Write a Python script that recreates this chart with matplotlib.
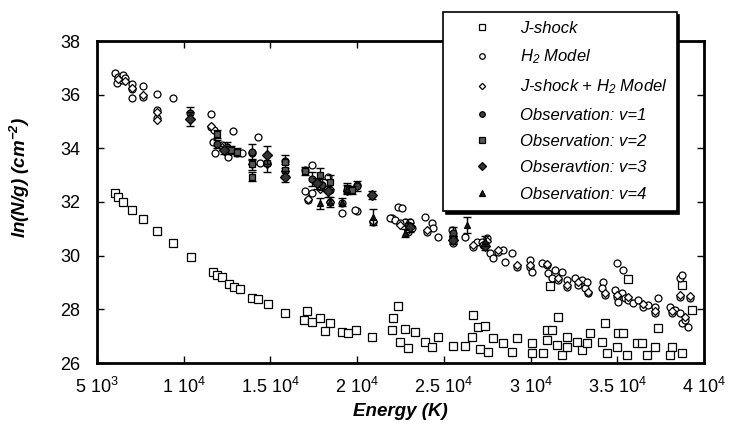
import matplotlib
matplotlib.use("Agg")
import matplotlib.pyplot as plt
from matplotlib.ticker import MultipleLocator

plt.rcParams['font.family'] = ['Liberation Sans', 'DejaVu Sans']
plt.rcParams['mathtext.default'] = 'regular'

# J-shock model (lower branch)
jshock_E = [6040, 6230, 6520, 7000, 7640, 8440, 9370, 10420, 11670, 11900,
            12190, 12630, 12900, 13250, 13960, 14300, 14840, 15840, 16960, 17090,
            17380, 17860, 18440, 18150, 19110, 19490, 19940, 20840, 22000, 22090,
            22380, 22470, 22760, 22950, 23340, 23920, 24300, 24680, 25550, 26220,
            26610, 26700, 26990, 27380, 27090, 27570, 27860, 28430, 28920, 29200,
            30070, 30070, 30740, 30930, 30930, 31220, 31600, 31510, 31800, 32090,
            32090, 32660, 32950, 33240, 33430, 34110, 34300, 34400, 34970, 35060,
            35350, 35550, 36120, 36410, 36700, 37180, 37370, 38140, 38050, 38710,
            39290, 31130, 35640, 38710]
jshock_y = [32.32, 32.20, 32.01, 31.70, 31.35, 30.92, 30.46, 29.94, 29.40, 29.28,
            29.19, 28.94, 28.84, 28.76, 28.41, 28.37, 28.19, 27.85, 27.60, 27.95,
            27.52, 27.67, 27.48, 27.20, 27.17, 27.11, 27.23, 26.96, 27.23, 27.67,
            28.13, 26.79, 27.27, 26.55, 27.14, 26.79, 26.61, 26.98, 26.64, 26.64,
            26.98, 27.79, 27.35, 27.38, 26.51, 26.42, 26.92, 26.73, 26.42, 26.92,
            26.73, 26.36, 26.36, 27.23, 26.86, 27.23, 27.72, 26.67, 26.30, 26.98,
            26.61, 26.79, 26.48, 26.73, 27.11, 26.79, 27.48, 26.36, 26.61, 27.11,
            27.11, 26.30, 26.73, 26.73, 26.30, 26.61, 27.29, 26.61, 26.30, 26.36,
            27.97, 28.87, 29.13, 28.91]

# H2 model (upper branch)
h2_E = [6040, 6230, 6140, 6420, 6520, 6620, 7000, 7000, 7000, 7640,
        7640, 8440, 8440, 8440, 9370, 11570, 11570, 11750, 12860, 11710,
        11800, 12190, 12570, 12670, 13060, 13340, 14300, 13920, 14400, 14790,
        15840, 16990, 17380, 16990, 17190, 17380, 17860, 18340, 18440, 18440,
        19110, 19110, 19400, 19980, 19980, 19880, 20840, 20900, 22380, 22570,
        22000, 22760, 21900, 22190, 22470, 22950, 23050, 23150, 23920, 24010,
        24300, 24400, 24680, 25460, 25550, 25550, 26220, 26700, 26890, 27180,
        27280, 27470, 27660, 27860, 28140, 28430, 28530, 28920, 29200, 29970,
        29970, 30070, 30650, 30930, 31030, 31220, 31410, 31600, 31800, 32090,
        32090, 32570, 32760, 32950, 33140, 33240, 33330, 34200, 34110, 34300,
        34870, 34970, 35060, 35260, 35450, 35640, 35930, 36220, 36510, 36790,
        37180, 37370, 37180, 38050, 38140, 38330, 38620, 38620, 38720, 38910,
        39100, 39200, 38620, 34970, 35350, 38720]
h2_y = [36.82, 36.67, 36.45, 36.55, 36.73, 36.61, 36.39, 36.20, 35.86, 36.32,
        35.92, 36.02, 35.43, 35.12, 35.89, 35.27, 34.81, 34.68, 34.66, 34.22,
        33.84, 34.12, 33.67, 33.94, 33.84, 33.84, 34.41, 33.84, 33.44, 33.44,
        33.54, 33.19, 33.38, 32.42, 32.07, 32.32, 32.57, 32.94, 32.45, 31.99,
        31.95, 31.58, 32.45, 32.63, 31.68, 31.70, 32.26, 31.27, 31.82, 31.76,
        31.39, 31.27, 31.39, 31.33, 31.21, 30.89, 31.27, 31.02, 31.45, 30.89,
        31.21, 31.02, 30.71, 30.96, 30.71, 30.46, 30.71, 30.33, 30.52, 30.52,
        30.40, 30.65, 30.09, 29.90, 30.15, 30.21, 29.77, 30.09, 29.59, 29.84,
        29.59, 29.40, 29.71, 29.65, 29.34, 29.16, 29.47, 29.09, 29.40, 29.09,
        28.84, 29.16, 28.91, 29.09, 28.78, 29.03, 28.60, 29.03, 28.78, 28.53,
        28.72, 28.47, 28.28, 28.60, 28.41, 28.35, 28.22, 28.35, 28.10, 28.16,
        27.85, 28.41, 28.10, 28.10, 27.85, 27.97, 28.47, 27.85, 27.48, 27.60,
        27.35, 28.41, 29.16, 29.71, 29.47, 29.28]

# J-shock + H2 model
jh2_E = [6230, 6620, 7000, 7640, 8440, 8440, 11570, 12190, 12670, 13920,
         14790, 15840, 17190, 17860, 18440, 19400, 20900, 22470, 22950, 24010,
         25550, 26700, 27470, 28140, 29200, 29970, 30930, 31600, 32090, 32760,
         33330, 34300, 34970, 35640, 36510, 37180, 38140, 38620, 38910, 39200]
jh2_y = [36.60, 36.50, 36.25, 36.00, 35.35, 35.05, 34.85, 34.05, 33.90, 33.40,
         33.40, 33.15, 32.10, 32.50, 32.00, 32.40, 31.30, 31.15, 30.95, 30.95,
         30.75, 30.40, 30.55, 30.20, 29.65, 29.65, 29.70, 29.15, 28.90, 29.00,
         28.65, 28.60, 28.55, 28.45, 28.20, 27.95, 27.95, 28.55, 27.70, 28.50]

# observations
v1_E = [10360, 11900, 12480, 13920, 17380, 17950, 19980, 22950, 25550]
v1_y = [35.30, 34.15, 34.05, 33.85, 32.85, 32.65, 32.60, 31.15, 30.85]
v1_err = [0.25, 0.15, 0.20, 0.30, 0.25, 0.20, 0.20, 0.20, 0.20]

v2_E = [11900, 12700, 13100, 13920, 13920, 14790, 15840, 15840, 16990, 17860, 18440, 19400, 19700]
v2_y = [34.55, 33.95, 33.85, 33.40, 32.95, 33.45, 33.50, 33.20, 33.15, 33.00, 32.75, 32.50, 32.45]
v2_err = [0.15, 0.15, 0.15, 0.20, 0.15, 0.35, 0.25, 0.20, 0.15, 0.25, 0.25, 0.15, 0.15]

v3_E = [10360, 12300, 14790, 15840, 17700, 18300, 20840, 23050, 25550, 27380]
v3_y = [35.10, 33.95, 33.75, 32.95, 32.70, 32.40, 32.25, 31.05, 30.60, 30.35]
v3_err = [0.25, 0.15, 0.35, 0.20, 0.20, 0.20, 0.15, 0.15, 0.15, 0.15]

v4_E = [17860, 18440, 19110, 19400, 20900, 22760, 26320, 27380]
v4_y = [31.95, 32.00, 32.00, 32.50, 31.45, 30.85, 31.15, 30.55]
v4_err = [0.20, 0.20, 0.15, 0.20, 0.30, 0.15, 0.30, 0.20]

xtick_vals = [5000, 10000, 15000, 20000, 25000, 30000, 35000, 40000]
xtick_labels = ['5 10$^3$', '1 10$^4$', '1.5 10$^4$', '2 10$^4$',
                '2.5 10$^4$', '3 10$^4$', '3.5 10$^4$', '4 10$^4$']

fig = plt.figure(figsize=(7.29, 4.34), dpi=100)
ax = fig.add_axes([97/729, 1 - 363/434, 607/729, 322/434])

hollow = dict(linestyle='none', markerfacecolor='white', markeredgecolor='black', markeredgewidth=0.9)
ax.plot(jshock_E, jshock_y, marker='s', markersize=5.5, label='J-shock', **hollow)
ax.plot(h2_E, h2_y, marker='o', markersize=5, label='$H_2$ Model', **hollow)
ax.plot(jh2_E, jh2_y, marker='D', markersize=4, label='J-shock + $H_2$ Model', **hollow)

obs = [(v1_E, v1_y, v1_err, 'o', '0.25', 'Observation: v=1'),
       (v2_E, v2_y, v2_err, 's', '0.35', 'Observation: v=2'),
       (v3_E, v3_y, v3_err, 'D', '0.2', 'Obseravtion: v=3'),
       (v4_E, v4_y, v4_err, '^', '0.1', 'Observation: v=4')]
for E, y, err, m, fc, lab in obs:
    ax.errorbar(E, y, yerr=err, fmt='none', ecolor='black',
                elinewidth=1, capsize=3, capthick=1)
    ax.plot(E, y, linestyle='none', marker=m, markersize=5, markerfacecolor=fc,
            markeredgecolor='black', markeredgewidth=0.9, label=lab)

ax.set_xlim(5000, 40000)
ax.set_ylim(26, 38)
ax.set_xticks(xtick_vals)
ax.set_xticklabels(xtick_labels)
ax.yaxis.set_major_locator(MultipleLocator(2))
ax.tick_params(direction='in', length=5, width=1, top=True, right=True, labelsize=13)
ax.tick_params(axis='x', pad=10)
ax.tick_params(axis='y', pad=12)
for s in ax.spines.values():
    s.set_linewidth(2)

ax.set_xlabel('Energy (K)', fontsize=13.5, fontweight='bold', style='italic', labelpad=4)
ax.set_ylabel('ln(N/g) (cm$^{-2}$)', fontsize=13.5, fontweight='bold', style='italic')
ax.yaxis.set_label_coords(-0.107, 0.575)

handles, labels = ax.get_legend_handles_labels()
leg = ax.legend(handles, labels, loc='upper left',
                bbox_to_anchor=(443/729, 1 - 12/434),
                bbox_transform=fig.transFigure, borderaxespad=0,
                prop={'style': 'italic', 'size': 12}, numpoints=1, markerscale=0.8,
                handlelength=3.57, handletextpad=0.49, borderpad=0.55,
                labelspacing=0.68, fancybox=False, framealpha=1,
                edgecolor='black', shadow={'color': 'black', 'alpha': 1})
leg.get_frame().set_linewidth(1.2)
leg.set_zorder(10)

fig.savefig('out.png', dpi=100)
